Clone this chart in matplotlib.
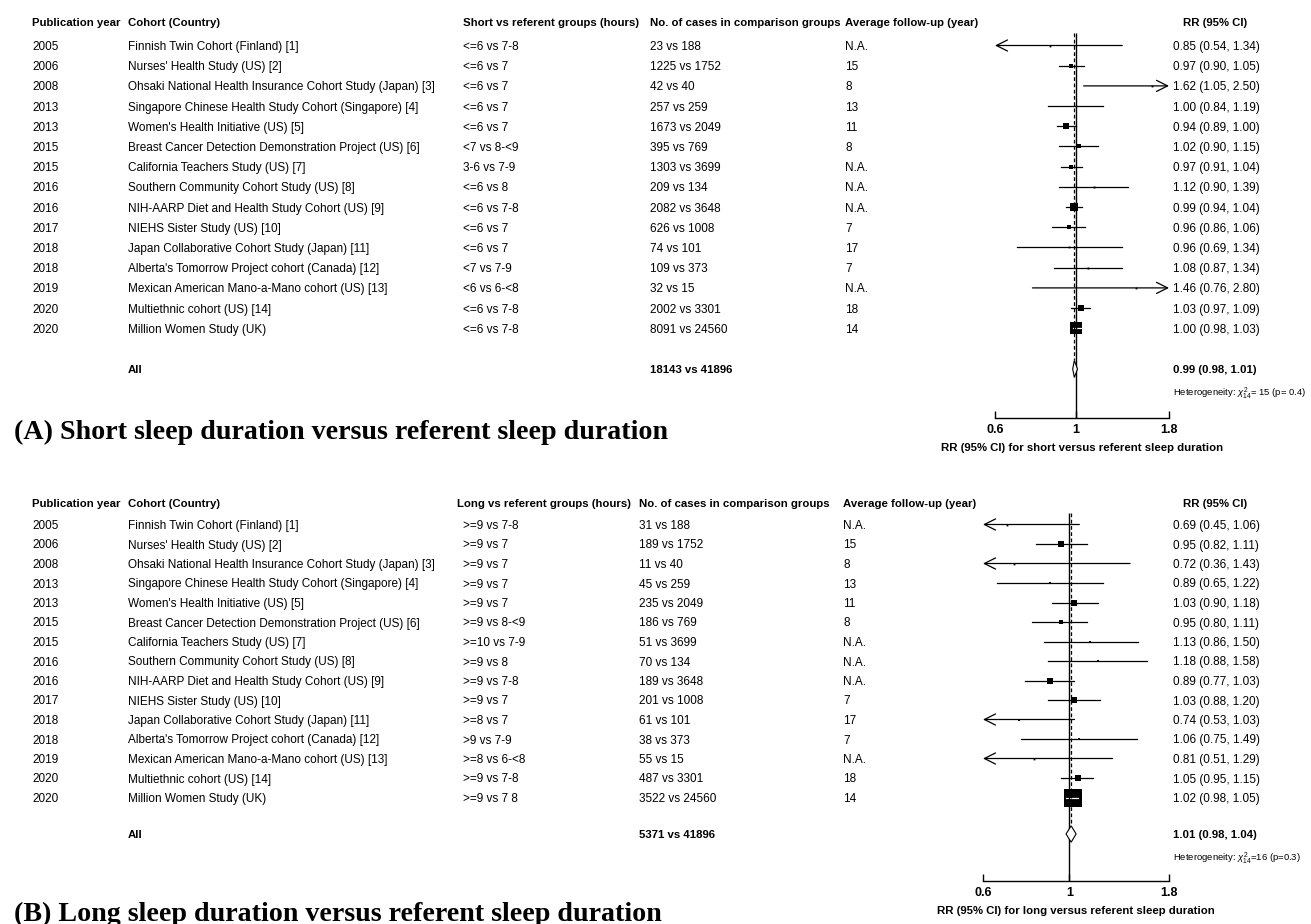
import numpy as np
import matplotlib.pyplot as plt
from matplotlib.transforms import blended_transform_factory
from matplotlib.ticker import NullLocator

plt.rcParams['font.family'] = ['Liberation Sans', 'DejaVu Sans']
plt.rcParams['mathtext.fontset'] = 'custom'
plt.rcParams['mathtext.rm'] = 'Liberation Sans'
plt.rcParams['mathtext.it'] = 'Liberation Sans:italic'

# ---- data ----
years = [2005, 2006, 2008, 2013, 2013, 2015, 2015, 2016, 2016, 2017, 2018, 2018, 2019, 2020, 2020]
cohorts = ["Finnish Twin Cohort (Finland) [1]",
           "Nurses' Health Study (US) [2]",
           "Ohsaki National Health Insurance Cohort Study (Japan) [3]",
           "Singapore Chinese Health Study Cohort (Singapore) [4]",
           "Women's Health Initiative (US) [5]",
           "Breast Cancer Detection Demonstration Project (US) [6]",
           "California Teachers Study (US) [7]",
           "Southern Community Cohort Study (US) [8]",
           "NIH-AARP Diet and Health Study Cohort (US) [9]",
           "NIEHS Sister Study (US) [10]",
           "Japan Collaborative Cohort Study (Japan) [11]",
           "Alberta's Tomorrow Project cohort (Canada) [12]",
           "Mexican American Mano-a-Mano cohort (US) [13]",
           "Multiethnic cohort (US) [14]",
           "Million Women Study (UK)"]
followup = ["N.A.", "15", "8", "13", "11", "8", "N.A.", "N.A.", "N.A.", "7", "17", "7", "N.A.", "18", "14"]

short_groups = ["<=6 vs 7-8", "<=6 vs 7", "<=6 vs 7", "<=6 vs 7", "<=6 vs 7", "<7 vs 8-<9", "3-6 vs 7-9",
                "<=6 vs 8", "<=6 vs 7-8", "<=6 vs 7", "<=6 vs 7", "<7 vs 7-9", "<6 vs 6-<8", "<=6 vs 7-8",
                "<=6 vs 7-8"]
short_cases = ["23 vs 188", "1225 vs 1752", "42 vs 40", "257 vs 259", "1673 vs 2049", "395 vs 769",
               "1303 vs 3699", "209 vs 134", "2082 vs 3648", "626 vs 1008", "74 vs 101", "109 vs 373",
               "32 vs 15", "2002 vs 3301", "8091 vs 24560"]
short_rr = [0.85, 0.97, 1.62, 1.00, 0.94, 1.02, 0.97, 1.12, 0.99, 0.96, 0.96, 1.08, 1.46, 1.03, 1.00]
short_lo = [0.54, 0.90, 1.05, 0.84, 0.89, 0.90, 0.91, 0.90, 0.94, 0.86, 0.69, 0.87, 0.76, 0.97, 0.98]
short_hi = [1.34, 1.05, 2.50, 1.19, 1.00, 1.15, 1.04, 1.39, 1.04, 1.06, 1.34, 1.34, 2.80, 1.09, 1.03]
short_weight = [0.6, 6.5, 0.6, 0.6, 9.5, 4.2, 6.5, 1.0, 16.8, 4.2, 0.6, 1.0, 0.6, 9.5, 37.8]
short_pooled = (0.99, 0.98, 1.01)
short_total = "18143 vs 41896"
short_het = r"Heterogeneity: $\chi^2_{14}$= 15 (p= 0.4)"

long_groups = [">=9 vs 7-8", ">=9 vs 7", ">=9 vs 7", ">=9 vs 7", ">=9 vs 7", ">=9 vs 8-<9", ">=10 vs 7-9",
               ">=9 vs 8", ">=9 vs 7-8", ">=9 vs 7", ">=8 vs 7", ">9 vs 7-9", ">=8 vs 6-<8", ">=9 vs 7-8",
               ">=9 vs 7 8"]
long_cases = ["31 vs 188", "189 vs 1752", "11 vs 40", "45 vs 259", "235 vs 2049", "186 vs 769", "51 vs 3699",
              "70 vs 134", "189 vs 3648", "201 vs 1008", "61 vs 101", "38 vs 373", "55 vs 15", "487 vs 3301",
              "3522 vs 24560"]
long_rr = [0.69, 0.95, 0.72, 0.89, 1.03, 0.95, 1.13, 1.18, 0.89, 1.03, 0.74, 1.06, 0.81, 1.05, 1.02]
long_lo = [0.45, 0.82, 0.36, 0.65, 0.90, 0.80, 0.86, 0.88, 0.77, 0.88, 0.53, 0.75, 0.51, 0.95, 0.98]
long_hi = [1.06, 1.11, 1.43, 1.22, 1.18, 1.11, 1.50, 1.58, 1.03, 1.20, 1.03, 1.49, 1.29, 1.15, 1.05]
long_weight = [0.4, 4.9, 0.4, 1.2, 4.9, 3.9, 1.2, 1.2, 4.9, 4.9, 0.8, 0.8, 0.4, 7.0, 63.2]
long_pooled = (1.01, 0.98, 1.04)
long_total = "5371 vs 41896"
long_het = r"Heterogeneity: $\chi^2_{14}$=16 (p=0.3)"

W, H = 1311, 924
XMIN, XMAX = 0.6, 1.8
FS = 8.45     # body text
FSB = 8.2     # bold headers

fig = plt.figure(figsize=(W / 100, H / 100), dpi=100)


def draw_panel(p):
    top, step = p['top'], p['step']
    row = lambda px: (px - top) / step
    y_top = row(p['header_px']) - 0.05
    y_bot = row(p['axis_px'])
    x0, x1 = p['x06'], p['x18']

    ax = fig.add_axes([x0 / W, 1 - p['axis_px'] / H, (x1 - x0) / W, (p['axis_px'] - (top + y_top * step)) / H])
    ax.set_xscale('log')
    ax.set_xlim(XMIN, XMAX)
    ax.set_ylim(y_bot, y_top)
    for s in ['top', 'left', 'right']:
        ax.spines[s].set_visible(False)
    ax.spines['bottom'].set_linewidth(1.0)
    ax.set_yticks([])
    ax.set_xticks([0.6, 1, 1.8])
    ax.set_xticklabels(['0.6', '1', '1.8'], fontweight='bold', fontsize=9)
    ax.xaxis.set_minor_locator(NullLocator())
    ax.tick_params(axis='x', direction='in', length=5, width=1.0, pad=4.5)
    ax.set_xlabel(p['xlabel'], fontweight='bold', fontsize=FSB, labelpad=5)
    ax.patch.set_alpha(0)

    px_per_log = (x1 - x0) / np.log(XMAX / XMIN)
    n = len(p['rr'])
    wmax = max(p['weight'])
    line_top = row(p['line_top_px'])
    all_y = row(p['all_px'])
    prr, plo, phi = p['pooled']

    # reference lines
    ax.vlines(1, line_top, y_bot, color='black', lw=1.0, zorder=5)
    ax.vlines(prr, line_top, all_y - 0.45, color='black', lw=0.9, linestyles=(0, (3, 2)), zorder=5)

    for i in range(n):
        rr, lo, hi = p['rr'][i], p['lo'][i], p['hi'][i]
        a, b = max(lo, XMIN), min(hi, XMAX)
        if lo < XMIN:
            ax.annotate('', xy=(XMIN, i), xytext=(b, i),
                        arrowprops=dict(arrowstyle='->,head_length=0.8,head_width=0.4', lw=0.9,
                                        color='black', shrinkA=0, shrinkB=0), zorder=2)
        elif hi > XMAX:
            ax.annotate('', xy=(XMAX, i), xytext=(a, i),
                        arrowprops=dict(arrowstyle='->,head_length=0.8,head_width=0.4', lw=0.9,
                                        color='black', shrinkA=0, shrinkB=0), zorder=2)
        else:
            ax.plot([a, b], [i, i], color='black', lw=0.9, zorder=2)
        side = max(1.8, p['box_max'] * np.sqrt(p['weight'][i] / wmax))
        ax.plot(rr, i, marker='s', ms=side * 0.72, color='black', mew=0, zorder=3)
        # CI narrower than the box: draw it in white on top
        half = side / 2 / px_per_log
        if lo > rr * np.exp(-half) and hi < rr * np.exp(half):
            ax.plot([lo, hi], [i, i], color='white', lw=0.9, zorder=4)

    # pooled diamond
    ax.fill([plo, prr, phi, prr], [all_y, all_y - 0.42, all_y, all_y + 0.42],
            facecolor='white', edgecolor='black', lw=0.8, zorder=6)

    # text columns
    tr = blended_transform_factory(fig.transFigure, ax.transData)
    va = 'center_baseline'
    c = p['cols']
    hy = row(p['header_px'])
    heads = [('Publication year', c['year']), ('Cohort (Country)', c['cohort']),
             (p['group_head'], c['group_head']), ('No. of cases in comparison groups', c['cases']),
             ('Average follow-up (year)', c['follow'])]
    for txt, x in heads:
        ax.text(x / W, hy, txt, transform=tr, fontsize=FSB, fontweight='bold', va=va, ha='left')
    ax.text(c['rr_head'] / W, hy, 'RR (95% CI)', transform=tr, fontsize=FSB, fontweight='bold',
            va=va, ha='center')
    for i in range(n):
        vals = [(str(years[i]), c['year']), (cohorts[i], c['cohort']), (p['groups'][i], c['group']),
                (p['cases'][i], c['cases']), (followup[i], c['follow']),
                ('%.2f (%.2f, %.2f)' % (p['rr'][i], p['lo'][i], p['hi'][i]), c['rr'])]
        for txt, x in vals:
            ax.text(x / W, i, txt, transform=tr, fontsize=FS, va=va, ha='left')
    for txt, x in [('All', c['cohort']), (p['total'], c['cases']),
                   ('%.2f (%.2f, %.2f)' % (prr, plo, phi), c['rr'])]:
        ax.text(x / W, all_y, txt, transform=tr, fontsize=FSB, fontweight='bold', va=va, ha='left')
    ax.text(c['rr'] / W, row(p['het_px']), p['het'], transform=tr, fontsize=6.8, va=va, ha='left')

    fig.text(14 / W, 1 - p['title_px'] / H, p['title'], fontsize=20.2, fontweight='bold',
             family=['Liberation Serif'], va='center', ha='left')


panel_a = dict(top=45.5, step=20.2, header_px=22, line_top_px=33, all_px=369, het_px=390, axis_px=418,
               x06=995, x18=1169, title_px=432, box_max=12,
               rr=short_rr, lo=short_lo, hi=short_hi, weight=short_weight, pooled=short_pooled,
               groups=short_groups, cases=short_cases, total=short_total, het=short_het,
               group_head='Short vs referent groups (hours)',
               xlabel='RR (95% CI) for short versus referent sleep duration',
               title='(A) Short sleep duration versus referent sleep duration',
               cols=dict(year=32, cohort=128, group=463, group_head=463, cases=650, follow=845,
                         rr=1173, rr_head=1215.5))

panel_b = dict(top=524.5, step=19.5, header_px=503, line_top_px=513, all_px=834, het_px=855, axis_px=881,
               x06=983, x18=1169, title_px=914, box_max=18,
               rr=long_rr, lo=long_lo, hi=long_hi, weight=long_weight, pooled=long_pooled,
               groups=long_groups, cases=long_cases, total=long_total, het=long_het,
               group_head='Long vs referent groups (hours)',
               xlabel='RR (95% CI) for long versus referent sleep duration',
               title='(B) Long sleep duration versus referent sleep duration',
               cols=dict(year=32, cohort=128, group=463, group_head=457, cases=639, follow=843,
                         rr=1173, rr_head=1215.5))

draw_panel(panel_a)
draw_panel(panel_b)

fig.savefig('out.png', dpi=100)
